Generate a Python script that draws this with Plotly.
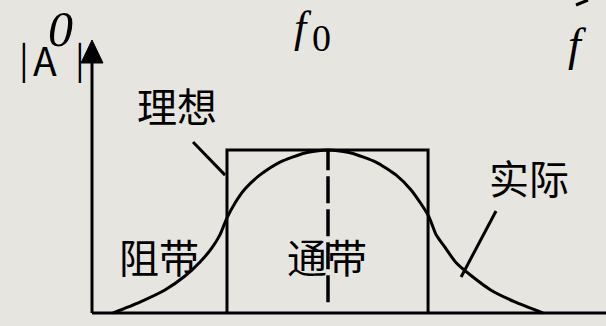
import plotly.graph_objects as go

# ---- data (frequency in units of f0, amplitude normalised to 1) ----
ideal_f = [0.572, 0.572, 1.424, 1.424]
ideal_A = [0.0, 1.0, 1.0, 0.0]

actual_f = [0.089, 0.203, 0.309, 0.394, 0.458, 0.508, 0.542, 0.572, 0.606, 0.648, 0.712, 0.797, 0.903, 1.000,
            1.097, 1.203, 1.288, 1.352, 1.394, 1.428, 1.458, 1.492, 1.542, 1.606, 1.691, 1.797, 1.911]
actual_A = [0.0, 0.067, 0.141, 0.227, 0.313, 0.399, 0.479, 0.583, 0.675, 0.761, 0.847, 0.926, 0.982, 1.000,
            0.982, 0.926, 0.847, 0.755, 0.670, 0.590, 0.480, 0.410, 0.310, 0.230, 0.140, 0.065, 0.0]

center_f = [1.0, 1.0]
center_A = [0.066, 1.0]

# labels: text, x(px), y(px)
cjk_labels = ["理想", "实际", "阻带", "通带"]
cjk_pos = [(177, 105), (529, 177), (159, 256), (327, 256)]

# leader lines (f, A) pairs
leader_ideal = [(0.428, 1.049), (0.564, 0.846)]
leader_actual = [(1.712, 0.626), (1.564, 0.221)]

W, H = 606, 326
BG = "#e6e5e0"
PX_F = 236.0
PX_A = 163.0
X0, Y0 = 92, 313

def px(x, y):
    return x / W, 1 - y / H

fig = go.Figure()
fig.add_trace(go.Scatter(x=ideal_f, y=ideal_A, mode="lines",
                         line=dict(color="black", width=3), hoverinfo="skip"))
fig.add_trace(go.Scatter(x=actual_f, y=actual_A, mode="lines",
                         line=dict(color="black", width=3, shape="spline", smoothing=0.6),
                         hoverinfo="skip"))
fig.add_trace(go.Scatter(x=center_f, y=center_A, mode="lines",
                         line=dict(color="black", width=3.5, dash="27px,6px"), hoverinfo="skip"))

shapes = []
# axes
shapes.append(dict(type="line", x0=0, x1=2.3, y0=0, y1=0, xref="x", yref="y",
                   line=dict(color="black", width=3)))
shapes.append(dict(type="line", x0=0, x1=0, y0=0, y1=1.55, xref="x", yref="y",
                   line=dict(color="black", width=3)))
hw = 11 / PX_F
tip = (Y0 - 40) / PX_A
base = (Y0 - 63) / PX_A
shapes.append(dict(type="path", path=f"M {-hw},{base} L 0,{tip} L {hw},{base} Z",
                   xref="x", yref="y", fillcolor="black", line=dict(color="black", width=1)))
for (a, b) in (leader_ideal, leader_actual):
    shapes.append(dict(type="line", x0=a[0], y0=a[1], x1=b[0], y1=b[1], xref="x", yref="y",
                       line=dict(color="black", width=3)))
# fragment stroke at top-right corner
shapes.append(dict(type="line", x0=576 / W, y0=1 - 5 / H, x1=588 / W, y1=1.0,
                   xref="paper", yref="paper", line=dict(color="black", width=3)))

ann = []
cjk_font = dict(family="Noto Sans CJK SC", size=40, color="black")
for t, (x, y) in zip(cjk_labels, cjk_pos):
    xp, yp = px(x, y)
    ann.append(dict(text=t, x=xp, y=yp, xref="paper", yref="paper", showarrow=False,
                    xanchor="center", yanchor="middle", font=cjk_font))

serif = "Liberation Serif"
def add(text, x, y, size, family=serif):
    xp, yp = px(x, y)
    ann.append(dict(text=text, x=xp, y=yp, xref="paper", yref="paper", showarrow=False,
                    xanchor="center", yanchor="middle",
                    font=dict(family=family, size=size, color="black")))

add("|", 24, 57, 36, "Noto Sans CJK SC")
add("A", 45, 59, 39, "Noto Sans CJK SC")
add("|", 80, 57, 36, "Noto Sans CJK SC")
add("<i>0</i>", 60, 29, 50)
add("<i>f</i>", 303, 28, 44)
add("0", 321, 38, 38)
add("<i>f</i>", 577, 44, 46)

fig.update_layout(
    width=W, height=H, autosize=False,
    margin=dict(l=0, r=0, t=0, b=0),
    paper_bgcolor=BG, plot_bgcolor=BG,
    showlegend=False,
    xaxis=dict(range=[-X0 / PX_F, (W - X0) / PX_F], visible=False, fixedrange=True),
    yaxis=dict(range=[-(H - Y0) / PX_A, Y0 / PX_A], visible=False, fixedrange=True),
    shapes=shapes, annotations=ann,
)
fig.write_html("out.html", config={"displayModeBar": False},
               post_script="document.body.style.margin='0';document.body.style.overflow='hidden';document.body.style.background='" + BG + "';")
